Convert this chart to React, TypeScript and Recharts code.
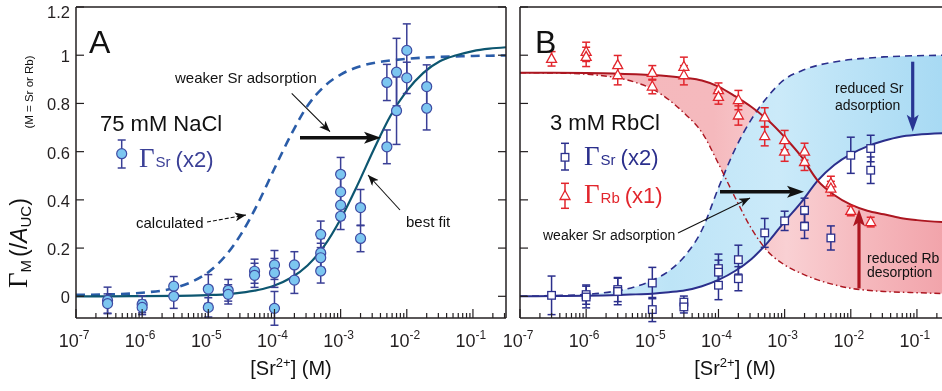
import { ComposedChart, Line, Area, Scatter, ErrorBar, XAxis, YAxis } from 'recharts'

// concentration grid [Sr2+] (M) used by the model curves of panel A
const concA = [1e-7, 3.16e-7, 1e-6, 3.16e-6, 5.62e-6, 1e-5, 1.78e-5, 3.16e-5, 5.62e-5, 1e-4, 1.78e-4, 3.16e-4, 5.62e-4, 1e-3, 1.78e-3, 3.16e-3, 5.62e-3, 1e-2, 1.78e-2, 3.16e-2, 5.62e-2, 0.1, 0.178, 0.316]
const bestFitA = [0, 0, 0.001, 0.002, 0.003, 0.005, 0.008, 0.015, 0.026, 0.045, 0.077, 0.128, 0.208, 0.321, 0.459, 0.608, 0.747, 0.852, 0.927, 0.975, 1.0, 1.017, 1.027, 1.033]
const calculatedA = [0.006, 0.008, 0.015, 0.035, 0.06, 0.1, 0.165, 0.26, 0.385, 0.53, 0.67, 0.79, 0.87, 0.92, 0.95, 0.968, 0.978, 0.985, 0.99, 0.993, 0.995, 0.997, 0.998, 0.999]

// measured Sr coverage, 75 mM NaCl
const srAConc = [3e-7, 3e-7, 1e-6, 1e-6, 3e-6, 3e-6, 1e-5, 1e-5, 2e-5, 2e-5, 5e-5, 5e-5, 1e-4, 1e-4, 1e-4, 2e-4, 2e-4, 5e-4, 5e-4, 5e-4, 5e-4, 1e-3, 1e-3, 1e-3, 1e-3, 2e-3, 2e-3, 5e-3, 5e-3, 7e-3, 7e-3, 1e-2, 1e-2, 2e-2, 2e-2]
const srAVal = [-0.017, -0.03, -0.033, -0.046, 0.042, 0.0, 0.03, -0.046, 0.025, 0.008, 0.104, 0.087, 0.13, 0.097, -0.05, 0.13, 0.067, 0.257, 0.18, 0.16, 0.105, 0.506, 0.433, 0.378, 0.332, 0.368, 0.24, 0.887, 0.62, 0.93, 0.77, 1.02, 0.906, 0.87, 0.78]
const srAErr = [0.055, 0.04, 0.035, 0.03, 0.04, 0.05, 0.06, 0.04, 0.045, 0.04, 0.05, 0.05, 0.06, 0.06, 0.07, 0.055, 0.055, 0.055, 0.06, 0.06, 0.05, 0.07, 0.06, 0.06, 0.055, 0.075, 0.055, 0.075, 0.07, 0.14, 0.14, 0.11, 0.065, 0.09, 0.09]

// concentration grid for panel B curves
const concB = [1e-7, 3.16e-7, 1e-6, 1.78e-6, 3.16e-6, 5.62e-6, 1e-5, 1.78e-5, 3.16e-5, 5.62e-5, 1e-4, 1.78e-4, 3.16e-4, 5.62e-4, 1e-3, 1.78e-3, 3.16e-3, 5.62e-3, 1e-2, 1.78e-2, 3.16e-2, 5.62e-2, 0.1, 0.316]
const srFitB = [0, 0.001, 0.002, 0.003, 0.005, 0.008, 0.011, 0.017, 0.025, 0.042, 0.068, 0.105, 0.155, 0.225, 0.31, 0.39, 0.48, 0.545, 0.59, 0.622, 0.645, 0.662, 0.67, 0.677]
const srCalcB = [0, 0.003, 0.008, 0.014, 0.024, 0.04, 0.066, 0.105, 0.17, 0.275, 0.45, 0.61, 0.735, 0.83, 0.9, 0.935, 0.958, 0.972, 0.982, 0.988, 0.993, 0.996, 0.998, 1.0]
const rbFitB = [0.927, 0.927, 0.926, 0.925, 0.923, 0.921, 0.918, 0.913, 0.906, 0.895, 0.87, 0.83, 0.785, 0.73, 0.66, 0.58, 0.48, 0.42, 0.38, 0.355, 0.34, 0.325, 0.316, 0.306]
const rbCalcB = [0.927, 0.926, 0.921, 0.915, 0.905, 0.887, 0.86, 0.815, 0.755, 0.68, 0.55, 0.41, 0.28, 0.185, 0.13, 0.095, 0.068, 0.048, 0.033, 0.025, 0.02, 0.017, 0.015, 0.01]

// measured Sr and Rb coverage, 3 mM RbCl
const srBConc = [3e-7, 1e-6, 1e-6, 3e-6, 3e-6, 1e-5, 1e-5, 3e-5, 3e-5, 1e-4, 1e-4, 1e-4, 2e-4, 2e-4, 5e-4, 1e-3, 2e-3, 2e-3, 5e-3, 1e-2, 2e-2, 2e-2]
const srBVal = [0.004, 0.007, -0.003, 0.028, 0.02, 0.055, -0.055, -0.024, -0.044, 0.115, 0.1, 0.046, 0.152, 0.073, 0.263, 0.313, 0.357, 0.29, 0.242, 0.585, 0.613, 0.523]
const srBErr = [0.08, 0.04, 0.045, 0.05, 0.055, 0.065, 0.05, 0.025, 0.025, 0.06, 0.05, 0.06, 0.06, 0.05, 0.06, 0.04, 0.05, 0.05, 0.05, 0.075, 0.055, 0.055]

const rbBConc = [3e-7, 1e-6, 1e-6, 3e-6, 3e-6, 1e-5, 1e-5, 3e-5, 3e-5, 1e-4, 1e-4, 2e-4, 2e-4, 5e-4, 5e-4, 1e-3, 1e-3, 2e-3, 2e-3, 5e-3, 5e-3, 1e-2, 2e-2]
const rbBVal = [0.985, 1.014, 0.993, 0.959, 0.917, 0.927, 0.87, 0.952, 0.917, 0.855, 0.827, 0.814, 0.75, 0.742, 0.664, 0.648, 0.6, 0.6, 0.557, 0.468, 0.447, 0.354, 0.308]
const rbBErr = [0.03, 0.04, 0.04, 0.04, 0.04, 0.03, 0.03, 0.04, 0.04, 0.03, 0.03, 0.04, 0.04, 0.04, 0.04, 0.04, 0.04, 0.035, 0.035, 0.03, 0.03, 0.02, 0.02]

// axis ticks
const majorTicks = [1e-7, 1e-6, 1e-5, 1e-4, 1e-3, 1e-2, 1e-1]
const majorExp = ['-7', '-6', '-5', '-4', '-3', '-2', '-1']
const yTicks = [0, 0.2, 0.4, 0.6, 0.8, 1, 1.2]
const yLabels = ['0', '0.2', '0.4', '0.6', '0.8', '1', '1.2']

const X_DOMAIN = [1e-7, 0.316]
const Y_DOMAIN = [-0.09, 1.2]
const xTicks = majorTicks.flatMap((d) => [1, 2, 3, 4, 5, 6, 7, 8, 9].map((m) => m * d)).filter((v) => v <= 0.316)

const curveA = concA.map((x, i) => ({ x, fit: bestFitA[i], calc: calculatedA[i] }))
const curveB = concB.map((x, i) => ({
  x,
  srFit: srFitB[i],
  srCalc: srCalcB[i],
  rbFit: rbFitB[i],
  rbCalc: rbCalcB[i],
  srBand: [srFitB[i], srCalcB[i]],
  rbBand: [rbCalcB[i], rbFitB[i]],
}))
const pointsA = srAConc.map((x, i) => ({ x, y: srAVal[i], err: srAErr[i] }))
const pointsSrB = srBConc.map((x, i) => ({ x, y: srBVal[i], err: srBErr[i] }))
const pointsRbB = rbBConc.map((x, i) => ({ x, y: rbBVal[i], err: rbBErr[i] }))

const H = 391
const PLOT_TOP = 7
const PLOT_BOTTOM = 318
const AXIS = '#231f20'
const NAVY = '#2b2f8c'
const NAVY_A = '#3a3f96'
const RED = '#e2262d'
const DARK_RED = '#ac1620'
const FONT = '"Liberation Sans", Arial, sans-serif'

const majorIndex = (v: number) => majorTicks.findIndex((m) => Math.abs(v / m - 1) < 1e-6)

const bottomTick = (props: any) => {
  const { x, payload } = props
  const i = majorIndex(payload.value)
  return (
    <g>
      <line x1={x} x2={x} y1={PLOT_BOTTOM} y2={PLOT_BOTTOM - (i >= 0 ? 9 : 5)} stroke={AXIS} strokeWidth={1.2} />
      {i >= 0 && (
        <text x={x - 2} y={347} textAnchor="middle" fontSize={18} fill={AXIS} fontFamily={FONT}>
          10<tspan dy={-8} fontSize={12}>{majorExp[i]}</tspan>
        </text>
      )}
    </g>
  )
}

const topTick = (props: any) => {
  const { x, payload } = props
  const i = majorIndex(payload.value)
  return <line x1={x} x2={x} y1={PLOT_TOP} y2={PLOT_TOP + (i >= 0 ? 9 : 5)} stroke={AXIS} strokeWidth={1.2} />
}

const leftTick = (plotLeft: number, showLabel: boolean) => (props: any) => {
  const { y, payload } = props
  const i = yTicks.indexOf(payload.value)
  return (
    <g>
      <line x1={plotLeft} x2={plotLeft + 8} y1={y} y2={y} stroke={AXIS} strokeWidth={1.2} />
      {showLabel && (
        <text x={plotLeft - 6} y={Math.max(y + 1, 12)} dy="0.36em" textAnchor="end" fontSize={16.5} fill={AXIS} fontFamily={FONT}>
          {yLabels[i]}
        </text>
      )}
    </g>
  )
}

const rightTick = (plotRight: number) => (props: any) => {
  const { y } = props
  return <line x1={plotRight} x2={plotRight - 8} y1={y} y2={y} stroke={AXIS} strokeWidth={1.2} />
}

const circleShape = (p: any) => <circle cx={p.cx} cy={p.cy} r={5} fill="#7cc6f0" stroke="#3e4ba3" strokeWidth={1.2} />
const squareShape = (p: any) => <rect x={p.cx - 3.8} y={p.cy - 3.8} width={7.6} height={7.6} fill="#fff" stroke={NAVY} strokeWidth={1.3} />
const triangleShape = (p: any) => (
  <polygon points={`${p.cx},${p.cy - 5.5} ${p.cx - 5},${p.cy + 3.5} ${p.cx + 5},${p.cy + 3.5}`} fill="#fff" stroke={RED} strokeWidth={1.3} />
)

const axisLine = { stroke: AXIS, strokeWidth: 1.5 }

// axes are 1px thick so they still render; margins compensate
function frame(plotLeft: number, plotRight: number, yLabelsOn: boolean) {
  return [
    <XAxis key="xb" dataKey="x" type="number" scale="log" domain={X_DOMAIN} ticks={xTicks} interval={0} allowDataOverflow height={1} axisLine={axisLine} tickLine={false} tick={bottomTick} />,
    <XAxis key="xt" xAxisId="t" orientation="top" type="number" scale="log" domain={X_DOMAIN} ticks={xTicks} interval={0} allowDataOverflow height={1} axisLine={axisLine} tickLine={false} tick={topTick} />,
    <YAxis key="yl" type="number" domain={Y_DOMAIN} ticks={yTicks} interval={0} allowDataOverflow width={1} axisLine={axisLine} tickLine={false} tick={leftTick(plotLeft, yLabelsOn)} />,
    <YAxis key="yr" yAxisId="r" orientation="right" type="number" domain={Y_DOMAIN} ticks={yTicks} interval={0} allowDataOverflow width={1} axisLine={axisLine} tickLine={false} tick={rightTick(plotRight)} />,
  ]
}

function chartMargin(width: number, plotLeft: number, plotRight: number) {
  return { top: PLOT_TOP - 1, bottom: H - PLOT_BOTTOM - 1, left: plotLeft - 1, right: width - plotRight - 1 }
}

function PanelA() {
  const plotLeft = 76
  const plotRight = 506
  return (
    <ComposedChart width={520} height={H} margin={chartMargin(520, plotLeft, plotRight)}>
      {frame(plotLeft, plotRight, true)}
      <Line data={curveA} dataKey="calc" type="monotone" stroke="#2a5ca8" strokeWidth={2.6} strokeDasharray="9 6" dot={false} isAnimationActive={false} />
      <Line data={curveA} dataKey="fit" type="monotone" stroke="#0d5670" strokeWidth={2.2} dot={false} isAnimationActive={false} />
      <Scatter data={pointsA} dataKey="y" shape={circleShape} isAnimationActive={false}>
        <ErrorBar dataKey="err" direction="y" width={4} stroke={NAVY_A} strokeWidth={1.5} />
      </Scatter>
    </ComposedChart>
  )
}

function PanelB() {
  const plotLeft = 20
  const plotRight = 450
  return (
    <ComposedChart width={480} height={H} margin={chartMargin(480, plotLeft, plotRight)}>
      <defs>
        <linearGradient id="blueBand" x1="0" y1="0" x2="1" y2="0">
          <stop offset="0%" stopColor="#dcf2fc" />
          <stop offset="35%" stopColor="#bde4f7" />
          <stop offset="60%" stopColor="#cbeaf9" />
          <stop offset="85%" stopColor="#b3dff5" />
          <stop offset="100%" stopColor="#a6d9f3" />
        </linearGradient>
        <linearGradient id="redBand" x1="0" y1="0" x2="1" y2="0">
          <stop offset="0%" stopColor="#f5b8bc" />
          <stop offset="45%" stopColor="#f5b9bd" />
          <stop offset="62%" stopColor="#f9d0d3" />
          <stop offset="82%" stopColor="#f5b6bb" />
          <stop offset="100%" stopColor="#f1a2a9" />
        </linearGradient>
      </defs>
      {frame(plotLeft, plotRight, false)}
      <Area className="band" data={curveB} dataKey="rbBand" type="monotone" stroke="none" fill="url(#redBand)" fillOpacity={1} isAnimationActive={false} />
      <Area className="band" data={curveB} dataKey="srBand" type="monotone" stroke="none" fill="url(#blueBand)" fillOpacity={1} isAnimationActive={false} />
      <Line data={curveB} dataKey="srCalc" type="monotone" stroke={NAVY} strokeWidth={1.6} strokeDasharray="7 5" dot={false} isAnimationActive={false} />
      <Line data={curveB} dataKey="rbCalc" type="monotone" stroke={DARK_RED} strokeWidth={1.4} strokeDasharray="6 3 1.5 3" dot={false} isAnimationActive={false} />
      <Line data={curveB} dataKey="srFit" type="monotone" stroke={NAVY} strokeWidth={2} dot={false} isAnimationActive={false} />
      <Line data={curveB} dataKey="rbFit" type="monotone" stroke={DARK_RED} strokeWidth={2} dot={false} isAnimationActive={false} />
      <Scatter data={pointsRbB} dataKey="y" shape={triangleShape} isAnimationActive={false}>
        <ErrorBar dataKey="err" direction="y" width={4} stroke={RED} strokeWidth={1.5} />
      </Scatter>
      <Scatter data={pointsSrB} dataKey="y" shape={squareShape} isAnimationActive={false}>
        <ErrorBar dataKey="err" direction="y" width={4} stroke={NAVY} strokeWidth={1.5} />
      </Scatter>
    </ComposedChart>
  )
}

const thickH = (x1: number, tip: number, y: number, color: string) => (
  <g>
    <line x1={x1} y1={y} x2={tip - 10} y2={y} stroke={color} strokeWidth={3.5} />
    <polygon points={`${tip},${y} ${tip - 17},${y - 6} ${tip - 13},${y} ${tip - 17},${y + 6}`} fill={color} />
  </g>
)
const thickV = (x: number, y1: number, tip: number, color: string) => {
  const s = tip > y1 ? 1 : -1
  return (
    <g>
      <line x1={x} y1={y1} x2={x} y2={tip - s * 10} stroke={color} strokeWidth={3.2} />
      <polygon points={`${x},${tip} ${x - 6},${tip - s * 17} ${x},${tip - s * 13} ${x + 6},${tip - s * 17}`} fill={color} />
    </g>
  )
}

function Overlay() {
  return (
    <svg width={942} height={391} style={{ position: 'absolute', left: 0, top: 0, pointerEvents: 'none' }} fontFamily={FONT}>
      <defs>
        <marker id="head" markerWidth="11" markerHeight="9" refX="11" refY="4.5" orient="auto" markerUnits="userSpaceOnUse">
          <path d="M0,0 L11,4.5 L0,9 L3,4.5 z" fill="#111" />
        </marker>
      </defs>

      {/* axis titles */}
      <text transform="translate(27,288) rotate(-90)" fontSize={23} fill="#111">
        <tspan fontFamily='"Liberation Serif", serif' fontSize={27}>Γ</tspan>
        <tspan fontSize={15} dy={4}>M</tspan>
        <tspan dy={-4} dx={3}>(/</tspan>
        <tspan fontStyle="italic">A</tspan>
        <tspan fontSize={15} dy={4}>UC</tspan>
        <tspan dy={-4}>)</tspan>
      </text>
      <text transform="translate(33,92) rotate(-90)" fontSize={11.5} textAnchor="middle" fill="#111">(M = Sr or Rb)</text>
      <text x={291} y={375} fontSize={20} textAnchor="middle" fill="#111">
        [Sr<tspan dy={-8} fontSize={13}>2+</tspan><tspan dy={8}>] (M)</tspan>
      </text>
      <text x={735} y={375} fontSize={20} textAnchor="middle" fill="#111">
        [Sr<tspan dy={-8} fontSize={13}>2+</tspan><tspan dy={8}>] (M)</tspan>
      </text>

      {/* panel A */}
      <text x={89} y={53} fontSize={32} fill="#111">A</text>
      <text x={100} y={131} fontSize={22} fill="#111">75 mM NaCl</text>
      <line x1={121.7} x2={121.7} y1={140} y2={168} stroke={NAVY_A} strokeWidth={1.5} />
      <line x1={117.7} x2={125.7} y1={140} y2={140} stroke={NAVY_A} strokeWidth={1.5} />
      <line x1={117.7} x2={125.7} y1={168} y2={168} stroke={NAVY_A} strokeWidth={1.5} />
      <circle cx={121.7} cy={153.7} r={5} fill="#7cc6f0" stroke="#3e4ba3" strokeWidth={1.2} />
      <text x={139} y={167} fill={NAVY_A}>
        <tspan fontFamily='"Liberation Serif", serif' fontSize={27}>Γ</tspan>
        <tspan fontSize={15} dx={1}>Sr</tspan>
        <tspan fontSize={22} dx={5}>(x2)</tspan>
      </text>
      <text x={175} y={83} fontSize={15} fill="#111">weaker Sr adsorption</text>
      <line x1={291.7} y1={93.3} x2={330} y2={131.7} stroke="#111" strokeWidth={1.1} markerEnd="url(#head)" />
      {thickH(300, 381, 137.7, '#111')}
      <text x={136} y={228} fontSize={15} fill="#111">calculated</text>
      <line x1={207} y1={222} x2={246} y2={215} stroke="#111" strokeWidth={1.1} strokeDasharray="4 2" markerEnd="url(#head)" />
      <text x={406} y={227} fontSize={15} fill="#111">best fit</text>
      <line x1={400} y1={210} x2={368} y2={175} stroke="#111" strokeWidth={1.1} markerEnd="url(#head)" />

      {/* panel B */}
      <text x={535} y={53} fontSize={32} fill="#111">B</text>
      <text x={550} y={130} fontSize={22} fill="#111">3 mM RbCl</text>
      <line x1={565} x2={565} y1={143.3} y2={170} stroke={NAVY} strokeWidth={1.5} />
      <line x1={561} x2={569} y1={143.3} y2={143.3} stroke={NAVY} strokeWidth={1.5} />
      <line x1={561} x2={569} y1={170} y2={170} stroke={NAVY} strokeWidth={1.5} />
      <rect x={561.2} y={153.5} width={7.6} height={7.6} fill="#fff" stroke={NAVY} strokeWidth={1.3} />
      <text x={584} y={165} fill={NAVY}>
        <tspan fontFamily='"Liberation Serif", serif' fontSize={27}>Γ</tspan>
        <tspan fontSize={15} dx={1}>Sr</tspan>
        <tspan fontSize={22} dx={5}>(x2)</tspan>
      </text>
      <line x1={565} x2={565} y1={183.3} y2={208.3} stroke={RED} strokeWidth={1.5} />
      <line x1={561} x2={569} y1={183.3} y2={183.3} stroke={RED} strokeWidth={1.5} />
      <line x1={561} x2={569} y1={208.3} y2={208.3} stroke={RED} strokeWidth={1.5} />
      <polygon points="565,190.5 560,199.5 570,199.5" fill="#fff" stroke={RED} strokeWidth={1.3} />
      <text x={584} y={203.3} fill={RED}>
        <tspan fontFamily='"Liberation Serif", serif' fontSize={27}>Γ</tspan>
        <tspan fontSize={15} dx={1}>Rb</tspan>
        <tspan fontSize={22} dx={5}>(x1)</tspan>
      </text>
      {thickH(720, 804, 191.7, '#111')}
      <text x={543} y={240} fontSize={14} fill="#111">weaker Sr adsorption</text>
      <line x1={678} y1={233} x2={750} y2={198} stroke="#111" strokeWidth={1.1} markerEnd="url(#head)" />
      <text x={835} y={93} fontSize={14} fill="#111">reduced Sr</text>
      <text x={835} y={110} fontSize={14} fill="#111">adsorption</text>
      {thickV(912.7, 61.7, 131.7, '#283593')}
      <text x={867} y={262.7} fontSize={14} fill="#111">reduced Rb</text>
      <text x={867} y={277.3} fontSize={14} fill="#111">desorption</text>
      {thickV(859, 288.3, 209.3, DARK_RED)}
    </svg>
  )
}

export default function App() {
  return (
    <div style={{ position: 'absolute', left: 0, top: 0, width: 942, height: 391, overflow: 'hidden', background: '#fff', fontFamily: FONT }}>
      <style>{`.band .recharts-area-area { mix-blend-mode: multiply; }`}</style>
      <div style={{ position: 'absolute', left: 0, top: 0 }}>
        <PanelA />
      </div>
      <div style={{ position: 'absolute', left: 500, top: 0 }}>
        <PanelB />
      </div>
      <Overlay />
    </div>
  )
}
